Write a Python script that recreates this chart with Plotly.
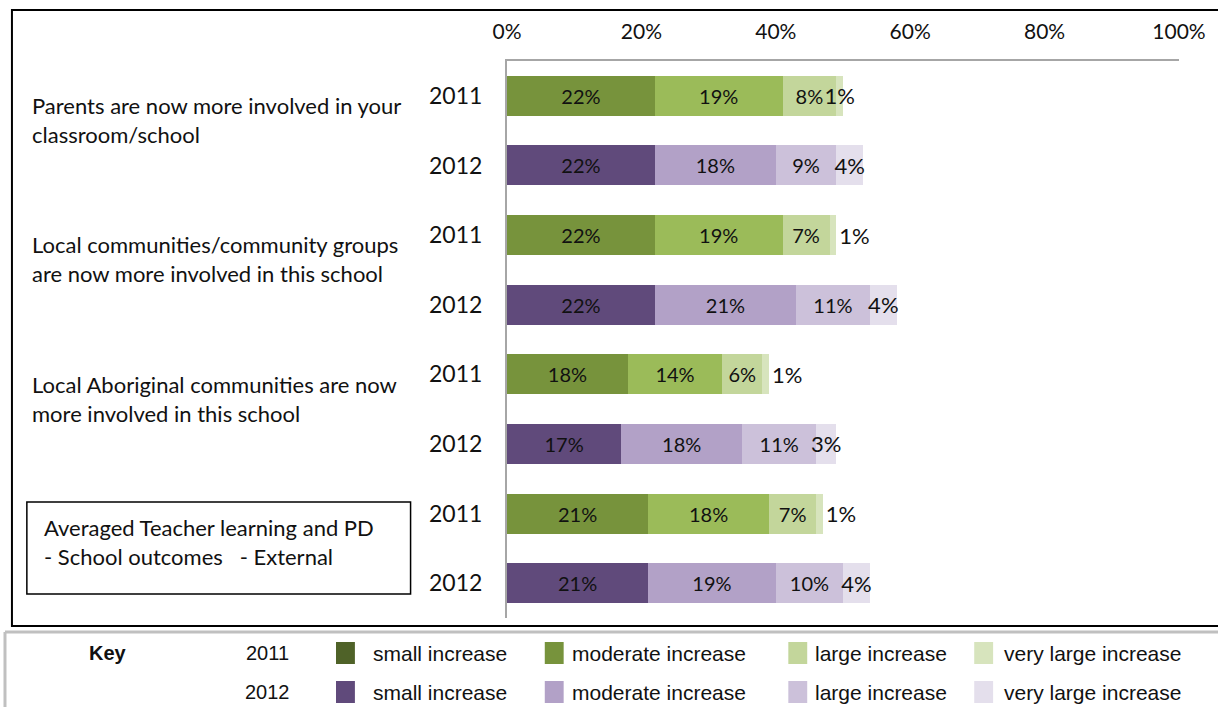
import plotly.graph_objects as go

# Rows top to bottom: three survey items plus the averaged summary, each with 2011 and 2012
years = ["2011", "2012", "2011", "2012", "2011", "2012", "2011", "2012"]
small_increase = [22, 22, 22, 22, 18, 17, 21, 21]
moderate_increase = [19, 18, 19, 21, 14, 18, 18, 19]
large_increase = [8, 9, 7, 11, 6, 11, 7, 10]
very_large_increase = [1, 4, 1, 4, 1, 3, 1, 4]

item_labels = [
    "Parents are now more involved in your<br>classroom/school",
    "Local communities/community groups<br>are now more involved in this school",
    "Local Aboriginal communities are now<br>more involved in this school",
]
summary_label = "Averaged Teacher learning and PD<br>- School outcomes   - External"

x_ticks = [0, 20, 40, 60, 80, 100]
x_tick_text = ["0%", "20%", "40%", "60%", "80%", "100%"]

segment_names = ["small increase", "moderate increase", "large increase", "very large increase"]
bar_colors = {
    "2011": ["#77933C", "#9BBB59", "#C3D69B", "#D7E4BD"],
    "2012": ["#604A7B", "#B2A1C7", "#CCC1DA", "#E4DFEC"],
}
key_colors = {
    "2011": ["#4F6228", "#77933C", "#C3D69B", "#D7E4BD"],
    "2012": ["#604A7B", "#B2A1C7", "#CCC1DA", "#E4DFEC"],
}

W, H = 1218, 707
ML, MR, MT, MB = 507, 35, 61, 89
PW, PH = W - ML - MR, H - MT - MB


def px(xp):
    return (xp - ML) / PW


def py(yp):
    return (H - MB - yp) / PH


FONT = "Lato, Carlito, Calibri, sans-serif"
NARROW = "Liberation Sans Narrow, Arial Narrow, Liberation Sans, Arial, sans-serif"
INK = "#111111"

rows = list(range(len(years)))
series = [small_increase, moderate_increase, large_increase, very_large_increase]

# the thin top segment of the 2011 rows 2-4 carries its label just past the bar end
last_positions = ["inside", "inside", "outside", "inside", "outside", "inside", "outside", "inside"]

fig = go.Figure()
for k, (name, vals) in enumerate(zip(segment_names, series)):
    last = k == len(series) - 1
    size = 22 if last else 20
    fig.add_trace(go.Bar(
        y=rows,
        x=vals,
        orientation="h",
        name=name,
        width=0.575,
        marker=dict(color=[bar_colors[yr][k] for yr in years], line=dict(width=0)),
        texttemplate="%{x}%",
        textposition=last_positions if last else "inside",
        insidetextanchor="middle",
        constraintext="none",
        textangle=0,
        cliponaxis=False,
        insidetextfont=dict(family=FONT, size=size, color=INK),
        outsidetextfont=dict(family=FONT, size=size, color=INK),
        showlegend=False,
        hoverinfo="skip",
    ))

fig.update_layout(
    width=W,
    height=H,
    margin=dict(l=ML, r=MR, t=MT, b=MB),
    barmode="stack",
    plot_bgcolor="white",
    paper_bgcolor="white",
    font=dict(family=FONT, color=INK),
    xaxis=dict(
        range=[0, 100],
        side="top",
        tickvals=x_ticks,
        ticktext=x_tick_text,
        tickfont=dict(family=FONT, size=21, color=INK),
        ticklabelstandoff=12,
        showgrid=False,
        zeroline=False,
        showline=True,
        linecolor="#A6A6A6",
        linewidth=2,
        ticks="",
        fixedrange=True,
    ),
    yaxis=dict(
        range=[7.5, -0.5],
        tickvals=rows,
        ticktext=years,
        tickfont=dict(family=FONT, size=23, color=INK),
        ticklabelstandoff=18,
        showgrid=False,
        zeroline=False,
        showline=True,
        linecolor="#A6A6A6",
        linewidth=2,
        ticks="",
        fixedrange=True,
    ),
)

shapes = []
annotations = []

# Chart frame
shapes.append(dict(type="rect", xref="paper", yref="paper",
                   x0=px(9), x1=px(1240), y0=py(626), y1=py(10),
                   line=dict(color="black", width=2), fillcolor="rgba(0,0,0,0)"))

# Item descriptions on the left, one per pair of rows
for i, label in enumerate(item_labels):
    annotations.append(dict(
        xref="paper", yref="y", x=px(27), y=2 * i + 0.35, text=label,
        xanchor="left", yanchor="middle", align="left", showarrow=False,
        font=dict(family=FONT, size=22, color=INK),
    ))

# Boxed summary label
shapes.append(dict(type="rect", xref="paper", yref="paper",
                   x0=px(24), x1=px(410), y0=py(594), y1=py(502),
                   line=dict(color="black", width=1.5), fillcolor="white"))
annotations.append(dict(
    xref="paper", yref="paper", x=px(39), y=py(542), text=summary_label,
    xanchor="left", yanchor="middle", align="left", showarrow=False,
    font=dict(family=FONT, size=22, color=INK),
))

# Key table below the chart
shapes.append(dict(type="line", xref="paper", yref="paper",
                   x0=px(2), x1=px(1240), y0=py(632), y1=py(632),
                   line=dict(color="#C0C0C0", width=3)))
shapes.append(dict(type="line", xref="paper", yref="paper",
                   x0=px(2), x1=px(2), y0=py(632), y1=py(712),
                   line=dict(color="#C0C0C0", width=3)))

annotations.append(dict(
    xref="paper", yref="paper", x=px(106), y=py(653), text="<b>Key</b>",
    xanchor="center", yanchor="middle", showarrow=False,
    font=dict(family=NARROW, size=20, color=INK),
))
swatch_x = [335, 545, 790, 977]
key_text_x = [370, 570, 815, 1005]
key_rows = {"2011": 653, "2012": 692}
for yr, yc in key_rows.items():
    annotations.append(dict(
        xref="paper", yref="paper", x=px(266), y=py(yc), text=yr,
        xanchor="center", yanchor="middle", showarrow=False,
        font=dict(family=NARROW, size=20, color=INK),
    ))
    for k, (sx, tx) in enumerate(zip(swatch_x, key_text_x)):
        shapes.append(dict(type="rect", xref="paper", yref="paper",
                           x0=px(sx), x1=px(sx + 19), y0=py(yc + 11), y1=py(yc - 11),
                           line=dict(width=0), fillcolor=key_colors[yr][k]))
        annotations.append(dict(
            xref="paper", yref="paper", x=px(tx), y=py(yc), text=segment_names[k],
            xanchor="left", yanchor="middle", showarrow=False,
            font=dict(family=NARROW, size=21, color=INK),
        ))

fig.update_layout(shapes=shapes, annotations=annotations)
fig.write_html("out.html")
